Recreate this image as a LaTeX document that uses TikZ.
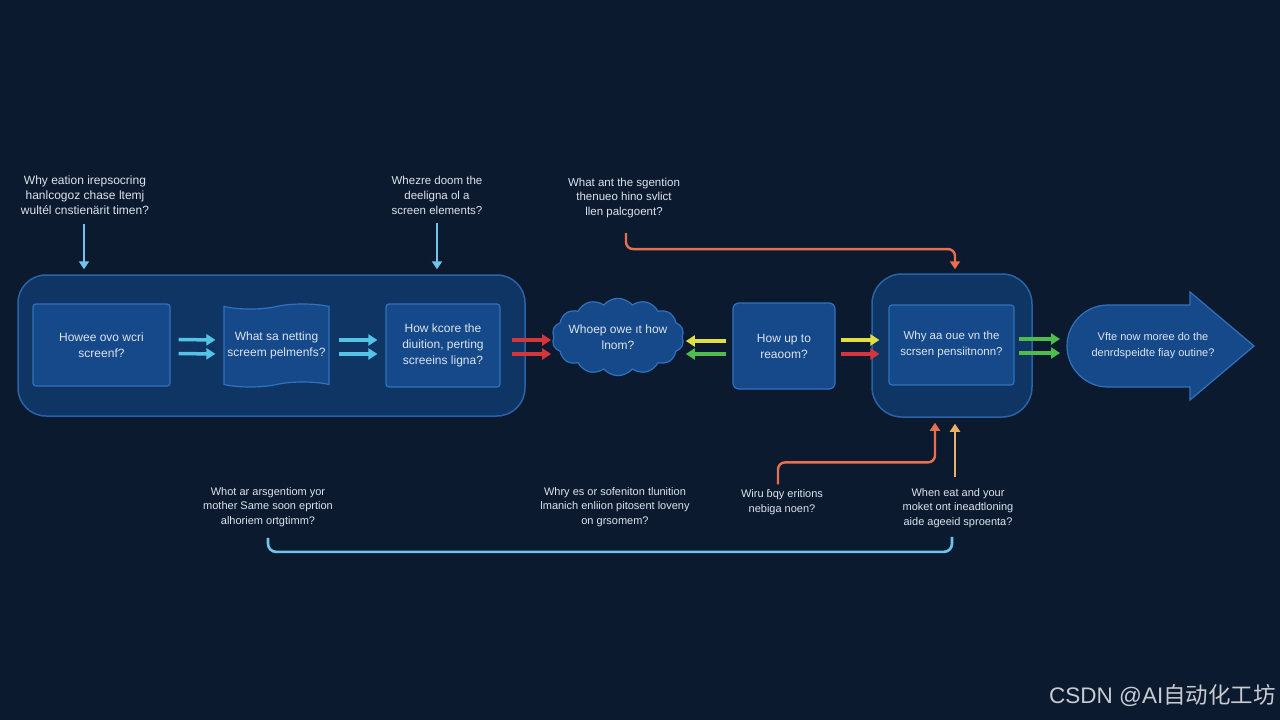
\documentclass[tikz,border=0pt]{standalone}
\usepackage{fontspec}
\setmainfont{Liberation Sans}
\newfontfamily\cjkfont{Noto Sans CJK SC}
\usetikzlibrary{shapes.symbols,arrows.meta}
\definecolor{bgc}{HTML}{0B1A2E}
\definecolor{contfill}{HTML}{0F3565}
\definecolor{contdraw}{HTML}{2B63A8}
\definecolor{boxfill}{HTML}{15498A}
\definecolor{boxdraw}{HTML}{3172BC}
\definecolor{txt}{HTML}{DCE4EE}
\definecolor{cyanA}{HTML}{55C3E6}
\definecolor{redA}{HTML}{D5363E}
\definecolor{yelA}{HTML}{E4DF40}
\definecolor{grnA}{HTML}{4DBE4D}
\definecolor{orgA}{HTML}{E8704E}
\definecolor{goldA}{HTML}{E8B066}
\definecolor{lblue}{HTML}{6EC4EC}
\definecolor{wmark}{HTML}{C8CCD2}
\newcommand\boxfont{\fontsize{12}{16}\selectfont}
\newcommand\lblfont{\fontsize{11}{14.5}\selectfont}
\tikzset{
  cont/.style={draw=contdraw, fill=contfill, line width=1.5pt, rounded corners=28pt, inner sep=0pt},
  box/.style={draw=boxdraw, fill=boxfill, line width=1.2pt, rounded corners=3pt, text=txt, font=\boxfont, align=center, inner sep=0pt},
  lbl/.style={text=txt, font=\lblfont, align=center, inner sep=1pt},
  fat/.style={line width=3.5pt, -{Triangle[length=9pt,width=11pt]}},
  thinarr/.style={line width=2.4pt, -{Triangle[length=8pt,width=10pt]}},
}
\begin{document}
\begin{tikzpicture}[x=1pt,y=-1pt]
\useasboundingbox (0,0) rectangle (1280,720);
\fill[bgc] (0,0) rectangle (1280,720);

% containers
\node[cont, minimum width=507pt, minimum height=141pt] (c1) at (271.5,345.5) {};
\node[cont, minimum width=160pt, minimum height=143pt, rounded corners=30pt] (c2) at (952,345.5) {};

% boxes
\node[box, minimum width=137pt, minimum height=82pt] (b1) at (101.5,345) {Howee ovo wcri\\screenf?};
\node[box, tape, rounded corners=0pt, tape bend height=5pt, minimum width=105pt, minimum height=83pt] (b2) at (276.5,345.5) {What sa netting\\screem pelmenfs?};
\node[box, minimum width=114pt, minimum height=83pt] (b3) at (443,345.5) {How kcore the\\diuition, perting\\screeins ligna?};
\node[box, cloud, rounded corners=0pt, cloud puffs=14, cloud puff arc=100, aspect=1.8, inner sep=-7pt, minimum width=132pt, minimum height=74pt] (cl) at (618,337) {Whoep owe ıt how\\lnom?};
\node[box, rounded corners=6pt, minimum width=102pt, minimum height=86pt] (rb) at (784,346) {How up to\\reaoom?};
\node[box, minimum width=125pt, minimum height=80pt, font=\fontsize{11.5}{16}\selectfont] (in2) at (951.5,345) {Why aa oue vn the\\scrsen pensiitnonn?};

% big arrow
\filldraw[fill=boxfill, draw=boxdraw, line width=1.2pt]
  (1108,305) -- (1190,305) -- (1190,292) -- (1254,346) -- (1190,400) -- (1190,387) -- (1108,387)
  .. controls (1085.4,387) and (1067,368.6) .. (1067,346)
  .. controls (1067,323.4) and (1085.4,305) .. (1108,305) -- cycle;
\coordinate (batail) at (1066,346);
\node[text=txt, font=\fontsize{11}{16}\selectfont, align=center] (ba) at (1153,346) {Vfte now moree do the\\denrdspeidte fiay outine?};

% double arrows
\draw[fat, cyanA, shorten <=8pt, shorten >=8pt] ([yshift=5.5pt]b1.east) -- ([yshift=5.5pt]b2.west);
\draw[fat, cyanA, shorten <=8pt, shorten >=8pt] ([yshift=-8.5pt]b1.east) -- ([yshift=-8.5pt]b2.west);
\draw[fat, cyanA, shorten <=9pt, shorten >=8pt] ([yshift=5.5pt]b2.east) -- ([yshift=5.5pt]b3.west);
\draw[fat, cyanA, shorten <=9pt, shorten >=8pt] ([yshift=-8.5pt]b2.east) -- ([yshift=-8.5pt]b3.west);
\draw[fat, redA, shorten <=11pt, shorten >=2pt] ([yshift=5.5pt]b3.east) -- ([yshift=5.5pt]b3.east -| cl.west);
\draw[fat, redA, shorten <=11pt, shorten >=2pt] ([yshift=-8.5pt]b3.east) -- ([yshift=-8.5pt]b3.east -| cl.west);
\draw[fat, yelA, shorten <=6pt, shorten >=3pt] ([yshift=5pt]rb.west) -- ([yshift=5pt]rb.west -| cl.east);
\draw[fat, grnA, shorten <=6pt, shorten >=3pt] ([yshift=-8pt]rb.west) -- ([yshift=-8pt]rb.west -| cl.east);
\draw[fat, yelA, shorten <=5pt, shorten >=9pt] ([yshift=6pt]rb.east) -- ([yshift=6pt]rb.east -| in2.west);
\draw[fat, redA, shorten <=5pt, shorten >=9pt] ([yshift=-8pt]rb.east) -- ([yshift=-8pt]rb.east -| in2.west);
\draw[fat, grnA, shorten <=4pt, shorten >=6pt] ([yshift=6pt]in2.east) -- ([yshift=6pt]in2.east -| batail);
\draw[fat, grnA, shorten <=4pt, shorten >=6pt] ([yshift=-8pt]in2.east) -- ([yshift=-8pt]in2.east -| batail);

% top labels
\node[lbl, font=\fontsize{12}{15}\selectfont] (t1) at (85,195) {Why eation irepsocring\\hanlcogoz chase ltemj\\wultél cnstienärit timen?};
\node[lbl, font=\fontsize{11.5}{15}\selectfont] (t2) at (437,195) {Whezre doom the\\deeligna ol a\\screen elements?};
\node[lbl, font=\fontsize{11.5}{14.5}\selectfont] (t3) at (624,198) {What ant the sgention\\thenueo hino svlict\\llen palcgoent?};
\draw[thinarr, lblue, shorten <=8pt, shorten >=5pt] ([xshift=-1pt]t1.south) -- ([xshift=-1pt]t1.south |- c1.north);
\draw[thinarr, lblue, shorten <=8pt, shorten >=5pt] (t2.south) -- (t2.south |- c1.north);
\draw[thinarr, orgA, rounded corners=7pt, shorten <=14pt, shorten >=4pt] ([xshift=2pt]t3.south) -- ++(0,30) -| ([xshift=3pt]c2.north);

% bottom labels
\node[lbl] (u1) at (268,507) {Whot ar arsgentiom yor\\mother Same soon eprtion\\alhoriem ortgtimm?};
\node[lbl] (u2) at (615,507) {Whry es or sofeniton tlunition\\lmanich enliion pitosent loveny\\on grsomem?};
\node[lbl] (u3) at (782,502) {Wiru ɓqy eritions\\nebiga noen?};
\node[lbl] (u4) at (958,508) {When eat and your\\moket ont ineadtloning\\aide ageeid sproenta?};
\draw[thinarr, orgA, rounded corners=7pt, shorten <=4pt, shorten >=5pt] ([xshift=-4pt]u3.north) -- ++(0,-26) -| ([xshift=-17pt]c2.south);
\draw[thinarr, goldA, shorten <=10pt, shorten >=6pt] ([xshift=-3pt]u4.north) -- ([xshift=-3pt]u4.north |- c2.south);
\draw[lblue, line width=2.6pt, rounded corners=8pt, shorten <=10pt] (u1.south) -- ++(0,24) -| ([xshift=-6pt,yshift=-8pt]u4.south);

% watermark
\node[text=wmark, font=\fontsize{22.5}{22.5}\selectfont, anchor=east, inner sep=0pt] (wm) at (1276,696) {CSDN @AI{\cjkfont 自动化工坊}};
\end{tikzpicture}
\end{document}
